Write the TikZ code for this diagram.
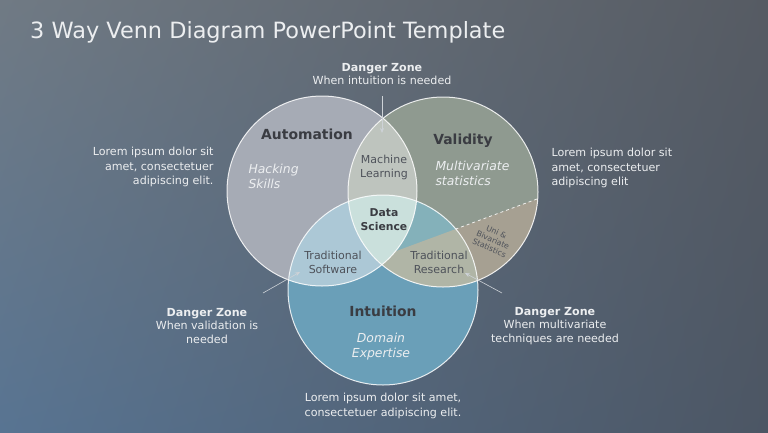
\documentclass[tikz,border=0pt]{standalone}
\usepackage{fontspec}
\setmainfont{DejaVu Sans}
\usetikzlibrary{arrows.meta,shadings,calc}
\definecolor{bgUL}{RGB}{112,122,132}
\definecolor{bgUR}{RGB}{86,91,99}
\definecolor{bgLL}{RGB}{88,116,146}
\definecolor{bgLR}{RGB}{76,86,100}
\definecolor{colA}{RGB}{166,171,181}
\definecolor{colV}{RGB}{143,154,144}
\definecolor{colI}{RGB}{106,159,184}
\definecolor{colAV}{RGB}{190,196,190}
\definecolor{colAI}{RGB}{172,200,214}
\definecolor{colVI}{RGB}{132,177,186}
\definecolor{colTR}{RGB}{176,181,166}
\definecolor{colTP}{RGB}{166,160,146}
\definecolor{colDS}{RGB}{202,224,220}
\definecolor{darklbl}{RGB}{58,60,66}
\definecolor{sublblc}{RGB}{78,82,90}
\definecolor{softwhite}{RGB}{236,238,240}
\definecolor{arrowgray}{RGB}{205,210,215}
\tikzset{
  lbl/.style={text=darklbl, font=\fontsize{13.9}{16}\selectfont\bfseries, align=center},
  sublbl/.style={text=sublblc, font=\fontsize{11}{14}\selectfont, align=center},
  itl/.style={text=softwhite, font=\fontsize{12.4}{15}\selectfont\itshape},
  body/.style={text=softwhite, font=\fontsize{11.1}{14.5}\selectfont},
  dz/.style={text=softwhite, font=\fontsize{11.1}{13.3}\selectfont, align=center},
  ring/.style={draw=white, line width=1pt, draw opacity=0.85},
  pointer/.style={draw=arrowgray, line width=0.6pt, -{Stealth[length=5pt,width=4pt]}}
}
\begin{document}
\begin{tikzpicture}[x=1pt,y=-1pt]
\useasboundingbox (0,0) rectangle (768,432);
\shade[upper left=bgUL, upper right=bgUR, lower left=bgLL, lower right=bgLR] (0,0) rectangle (768,432);
% circles
\coordinate (cA) at (322,191);
\coordinate (cV) at (443,192);
\coordinate (cI) at (383,290);
\def\rr{95}
\fill[colA] (cA) circle (\rr);
\fill[colV] (cV) circle (\rr);
\fill[colI] (cI) circle (\rr);
% taupe region under the dashed line in Validity
\coordinate (p1) at (537,199);
\coordinate (p2) at (372,260);
\coordinate (pm) at (455.8,229);
\begin{scope}
  \clip (cV) circle (\rr);
  \fill[colTP] (p1) -- ($(p1)!-0.2!(p2)$) -- (600,420) -- (300,420) -- (p2) -- cycle;
\end{scope}
\begin{scope}
  \clip (cA) circle (\rr);
  \fill[colAV] (cV) circle (\rr);
\end{scope}
\begin{scope}
  \clip (cA) circle (\rr);
  \fill[colAI] (cI) circle (\rr);
\end{scope}
\begin{scope}
  \clip (cV) circle (\rr);
  \fill[colVI] (cI) circle (\rr);
  \clip (cI) circle (\rr);
  \fill[colTR] (p1) -- (600,190) -- (600,420) -- (300,420) -- (p2) -- cycle;
\end{scope}
\begin{scope}
  \clip (cA) circle (\rr);
  \clip (cV) circle (\rr);
  \fill[colDS] (cI) circle (\rr);
\end{scope}
\draw[ring] (cA) circle (\rr);
\draw[ring] (cV) circle (\rr);
\draw[ring] (cI) circle (\rr);
\draw[white, line width=0.8pt, dashed, draw opacity=0.85] (p1) -- (pm);
% title
\node[anchor=base west, text=softwhite, font=\fontsize{22.4}{26}\selectfont, inner sep=0pt] (title) at (30,38) {3 Way Venn Diagram PowerPoint Template};
% circle labels
\node[lbl] (auto) at (307,134) {Automation};
\node[itl, anchor=west, align=left] (hack) at (245,176) {Hacking\\Skills};
\node[lbl] (valid) at (463,141) {Validity};
\node[itl, anchor=west, align=left] (multi) at (432,173) {Multivariate\\statistics};
\node[lbl] (intu) at (383,311) {Intuition};
\node[itl, align=center] (dom) at (381,347) {Domain\\Expertise};
\node[sublbl] (ml) at (384,167) {Machine\\Learning};
\node[text=darklbl, font=\fontsize{10.8}{14}\selectfont\bfseries, align=center] (ds) at (384,220) {Data\\Science};
\node[sublbl] (ts) at (333,262) {Traditional\\Software};
\node[sublbl] (tr) at (439,262) {Traditional\\Research};
\node[text=sublblc, font=\fontsize{7.8}{8.8}\selectfont, align=center, rotate=-24, inner sep=0pt] (uni) at (493,240) {Uni \&\\Bivariate\\Statistics};
% side texts
\node[body, anchor=east, align=right] (lt) at (217,167) {Lorem ipsum dolor sit\\amet, consectetuer\\adipiscing elit.};
\node[body, anchor=west, align=left] (rt) at (548,168) {Lorem ipsum dolor sit\\amet, consectetuer\\adipiscing elit};
\node[body, align=center] (bt) at (383,406) {Lorem ipsum dolor sit amet,\\consectetuer adipiscing elit.};
% danger zones
\node[dz] (dzt) at (382,74) {\textbf{Danger Zone}\\When intuition is needed};
\node[dz] (dzl) at (207,326) {\textbf{Danger Zone}\\When validation is\\needed};
\node[dz] (dzr) at (555,326) {\textbf{Danger Zone}\\When multivariate\\techniques are needed};
% pointers
\coordinate (t0) at (382,96);
\coordinate (t1) at (382,133);
\coordinate (l0) at (263,293);
\coordinate (l1) at (300,272);
\coordinate (r0) at (502,293);
\coordinate (r1) at (465,273);
\draw[pointer] (t0) -- (t1);
\draw[pointer] (l0) -- (l1);
\draw[pointer] (r0) -- (r1);
\end{tikzpicture}
\end{document}
